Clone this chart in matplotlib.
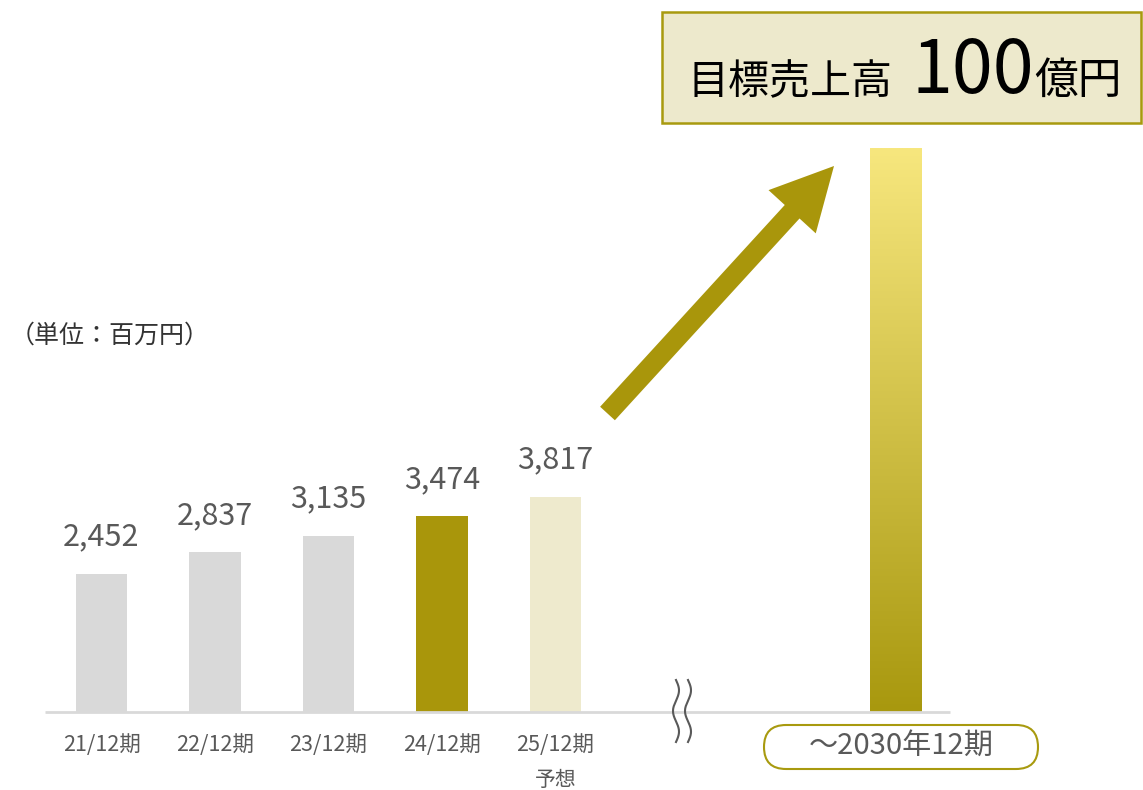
import numpy as np
import matplotlib
matplotlib.use("Agg")
import matplotlib.pyplot as plt
from matplotlib.patches import FancyArrow, Rectangle, FancyBboxPatch
from matplotlib.colors import LinearSegmentedColormap

plt.rcParams['font.family'] = ['Noto Sans CJK JP', 'DejaVu Sans']

# data (百万円)
periods = ['21/12期', '22/12期', '23/12期', '24/12期', '25/12期']
sales = [2452, 2837, 3135, 3474, 3817]
bar_colors = ['#D9D9D9', '#D9D9D9', '#D9D9D9', '#A9960B', '#EEEACD']
target_label = '～2030年12期'
target_value = 10000
target_pos = 7

fig = plt.figure(figsize=(11.43, 7.9), dpi=100)
ax = fig.add_axes([0, 0, 1, 1])
ax.axis('off')

gray = '#595959'
x = np.arange(len(sales))
ax.bar(x, sales, width=0.45, color=bar_colors, zorder=2)
for xi, v in zip(x, sales):
    ax.text(xi, v + 380, f'{v:,}', ha='center', va='bottom', fontsize=22, color=gray)
for xi, p in zip(x, periods):
    ax.text(xi, -590, p, ha='center', va='center', fontsize=15.5, color=gray)
ax.text(x[-1], -1200, '予想', ha='center', va='center', fontsize=15, color=gray)

# gradient target bar
cmap = LinearSegmentedColormap.from_list('gold', ['#A8980E', '#F7E77E'])
grad = np.linspace(0, 1, 256).reshape(-1, 1)
ax.imshow(grad, aspect='auto', cmap=cmap, origin='lower',
          extent=(target_pos - 0.225, target_pos + 0.225, 0, target_value), zorder=2)
ax.set_xlim(-0.894, 9.176)
ax.set_ylim(-1385, 12646)

# baseline
ax.plot([-0.5, 7.48], [0, 0], color='#D9D9D9', lw=2, zorder=3, solid_capstyle='butt')

# overlay in pixel coordinates for decorations
ov = fig.add_axes([0, 0, 1, 1])
ov.set_xlim(0, 1143)
ov.set_ylim(790, 0)
ov.axis('off')
ov.patch.set_alpha(0)

# wavy break marks
yy = np.linspace(680, 742, 200)
for x0 in [676, 688]:
    xx = x0 + 3 * np.sin((yy - 680) / 62 * 2 * np.pi * 1.5)
    ov.plot(xx, yy, color=gray, lw=1.5)

# arrow
tail = np.array([607.5, 413.5])
tip = np.array([834, 166])
d = tip - tail
ov.add_patch(FancyArrow(tail[0], tail[1], d[0], d[1], width=20, head_width=64,
                        head_length=62, length_includes_head=True,
                        color='#A9960B', lw=0))

# target box
ov.add_patch(Rectangle((662, 12), 479, 111, facecolor='#EDE9CC', edgecolor='#A89A0F', lw=1.8))
ov.text(688, 94, '目標売上高', fontsize=29.5, color='black', va='baseline', ha='left')
ov.text(912, 93, '100', fontsize=53, color='black', va='baseline', ha='left')
ov.text(1034, 94, '億円', fontsize=31.5, color='black', va='baseline', ha='left')

# unit label
ov.text(10, 336, '（単位：百万円）', fontsize=18, color='#333333', va='center', ha='left')

# target period label
ov.add_patch(FancyBboxPatch((764, 725), 274, 44, boxstyle='round,pad=0,rounding_size=22',
                            facecolor='white', edgecolor='#A89A0F', lw=1.5))
ov.text(901, 746, target_label, fontsize=21, color=gray, ha='center', va='center')

fig.savefig('out.png', dpi=100)
